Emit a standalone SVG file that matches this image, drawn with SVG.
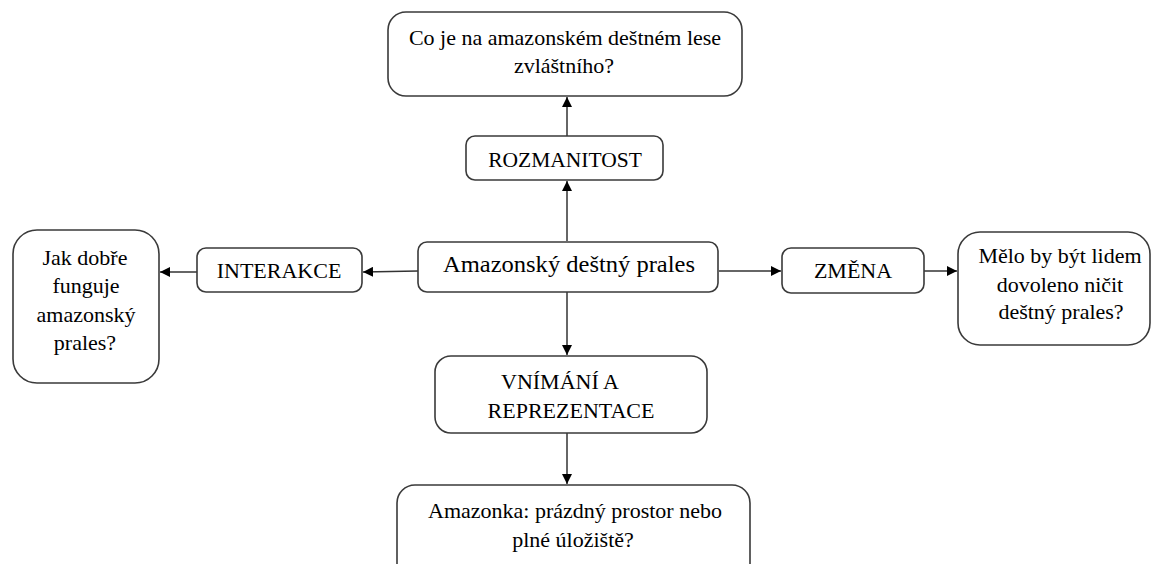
<svg xmlns="http://www.w3.org/2000/svg" width="1152" height="564" viewBox="0 0 1152 564">
<style>
.b{fill:#fff;stroke:#3a3a3a;stroke-width:1.6}
.t{font-family:"Liberation Serif","Times New Roman",serif;font-size:22px;fill:#000;text-anchor:middle}
.c{stroke:#333;stroke-width:1.5;fill:none;marker-end:url(#a)}
</style>
<defs>
<marker id="a" viewBox="0 0 10 10" refX="10" refY="5" markerWidth="10" markerHeight="10" markerUnits="userSpaceOnUse" orient="auto">
<path d="M0,0 L10,5 L0,10 z" fill="#000"/>
</marker>
</defs>
<rect width="1152" height="564" fill="#fff"/>
<g id="connectors">
<line class="c" x1="567" y1="136" x2="567" y2="97"/>
<line class="c" x1="567" y1="241" x2="567" y2="181"/>
<line class="c" x1="418" y1="271" x2="363" y2="272"/>
<line class="c" x1="197" y1="272" x2="160" y2="272"/>
<line class="c" x1="719" y1="271" x2="781" y2="271"/>
<line class="c" x1="924" y1="271" x2="957" y2="271"/>
<line class="c" x1="567" y1="292" x2="567" y2="355"/>
<line class="c" x1="567" y1="433" x2="567" y2="484"/>
</g>
<g id="n_top">
<rect class="b" x="388" y="12" width="354" height="84" rx="18"/>
<text class="t" x="565" y="45">Co je na amazonském deštném lese</text>
<text class="t" x="564" y="73">zvláštního?</text>
</g>
<g id="n_rozmanitost">
<rect class="b" x="466" y="136" width="197" height="44" rx="9"/>
<text class="t" x="565" y="167" style="font-size:21.5px">ROZMANITOST</text>
</g>
<g id="n_center">
<rect class="b" x="418" y="242" width="300" height="50" rx="9"/>
<text class="t" x="569" y="272" style="font-size:23.5px" textLength="252" lengthAdjust="spacingAndGlyphs">Amazonský deštný prales</text>
</g>
<g id="n_interakce">
<rect class="b" x="197" y="248" width="165" height="44" rx="9"/>
<text class="t" x="279" y="278">INTERAKCE</text>
</g>
<g id="n_left">
<rect class="b" x="13" y="230" width="146" height="153" rx="24"/>
<text class="t" x="85" y="265">Jak dobře</text>
<text class="t" x="86" y="293">funguje</text>
<text class="t" x="86" y="322">amazonský</text>
<text class="t" x="85" y="350">prales?</text>
</g>
<g id="n_zmena">
<rect class="b" x="782" y="248" width="142" height="45" rx="9"/>
<text class="t" x="853" y="278">ZMĚNA</text>
</g>
<g id="n_right">
<rect class="b" x="958" y="232" width="192" height="113" rx="22"/>
<text class="t" x="1060" y="263">Mělo by být lidem</text>
<text class="t" x="1060" y="292">dovoleno ničit</text>
<text class="t" x="1061" y="319">deštný prales?</text>
</g>
<g id="n_vnimani">
<rect class="b" x="435" y="356" width="272" height="77" rx="16"/>
<text class="t" x="560" y="389">VNÍMÁNÍ A</text>
<text class="t" x="571" y="418">REPREZENTACE</text>
</g>
<g id="n_bottom">
<rect class="b" x="397" y="485" width="353" height="100" rx="18"/>
<text class="t" x="575" y="518">Amazonka: prázdný prostor nebo</text>
<text class="t" x="573" y="547">plné úložiště?</text>
</g>
</svg>
